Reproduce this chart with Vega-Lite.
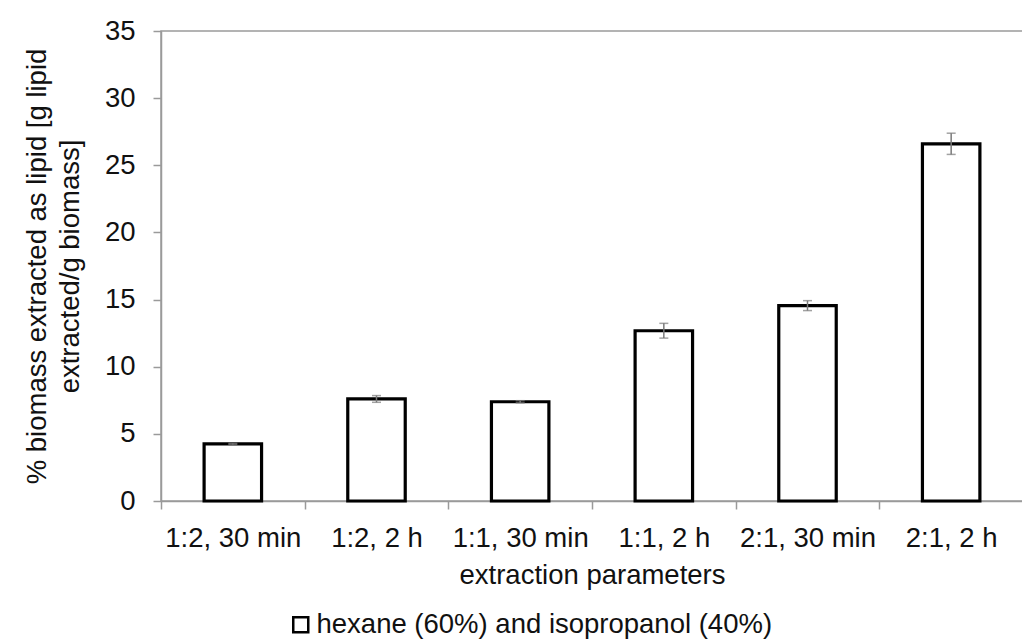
{
  "$schema": "https://vega.github.io/schema/vega-lite/v6.json",
  "width": 862,
  "height": 470,
  "autosize": {"type": "none"},
  "padding": {"left": 161, "top": 31, "right": 0, "bottom": 142},
  "background": "white",
  "config": {
    "font": "Liberation Sans",
    "view": {"stroke": "#9a9a9a", "strokeWidth": 1.5},
    "axis": {
      "grid": false,
      "domainColor": "#9a9a9a",
      "domainWidth": 1.5,
      "tickColor": "#9a9a9a",
      "tickWidth": 1.5,
      "tickSize": 8,
      "labelFont": "Liberation Sans",
      "labelFontSize": 27.5,
      "labelColor": "#111111",
      "titleFont": "Liberation Sans",
      "titleFontSize": 27.5,
      "titleFontWeight": "normal",
      "titleColor": "#111111"
    }
  },
  "data": {
    "values": [
      {"condition": "1:2, 30 min", "lipid": 4.25, "sd": 0.04},
      {"condition": "1:2, 2 h", "lipid": 7.6, "sd": 0.25},
      {"condition": "1:1, 30 min", "lipid": 7.39, "sd": 0.08},
      {"condition": "1:1, 2 h", "lipid": 12.68, "sd": 0.55},
      {"condition": "2:1, 30 min", "lipid": 14.55, "sd": 0.37},
      {"condition": "2:1, 2 h", "lipid": 26.6, "sd": 0.79}
    ]
  },
  "resolve": {"axis": {"x": "independent", "y": "independent"}},
  "layer": [
    {
      "mark": {"type": "bar", "stroke": "black", "strokeWidth": 3.2, "width": {"band": 0.4}},
      "encoding": {
        "x": {
          "field": "condition",
          "type": "nominal",
          "sort": null,
          "scale": {"paddingInner": 0, "paddingOuter": 0},
          "axis": {
            "title": "extraction parameters",
            "labelAngle": 0,
            "tickBand": "extent",
            "labelPadding": 15,
            "titlePadding": 10
          }
        },
        "y": {
          "field": "lipid",
          "type": "quantitative",
          "scale": {"domain": [0, 35], "nice": false},
          "axis": {
            "title": ["% biomass extracted as lipid [g lipid", "extracted/g biomass]"],
            "values": [0, 5, 10, 15, 20, 25, 30, 35],
            "labelPadding": 18,
            "titlePadding": 20,
            "titleLineHeight": 33
          }
        },
        "color": {
          "datum": "hexane (60%) and isopropanol (40%)",
          "type": "nominal",
          "scale": {"range": ["white"]},
          "legend": {
            "title": null,
            "orient": "none",
            "legendX": 126,
            "legendY": 580,
            "padding": 0,
            "symbolType": "square",
            "symbolSize": 225,
            "symbolStrokeColor": "black",
            "symbolStrokeWidth": 2.5,
            "symbolFillColor": "white",
            "labelFont": "Liberation Sans",
            "labelFontSize": 27.5,
            "labelColor": "#111111",
            "labelOffset": 2,
            "labelLimit": 0
          }
        }
      }
    },
    {
      "mark": {"type": "errorbar", "color": "#7a7a7a", "thickness": 1.5, "ticks": {"size": 9, "thickness": 1.5, "color": "#7a7a7a"}},
      "encoding": {
        "x": {"field": "condition", "type": "nominal", "sort": null, "axis": null},
        "y": {"field": "lipid", "type": "quantitative", "axis": null},
        "yError": {"field": "sd"}
      }
    }
  ]
}
